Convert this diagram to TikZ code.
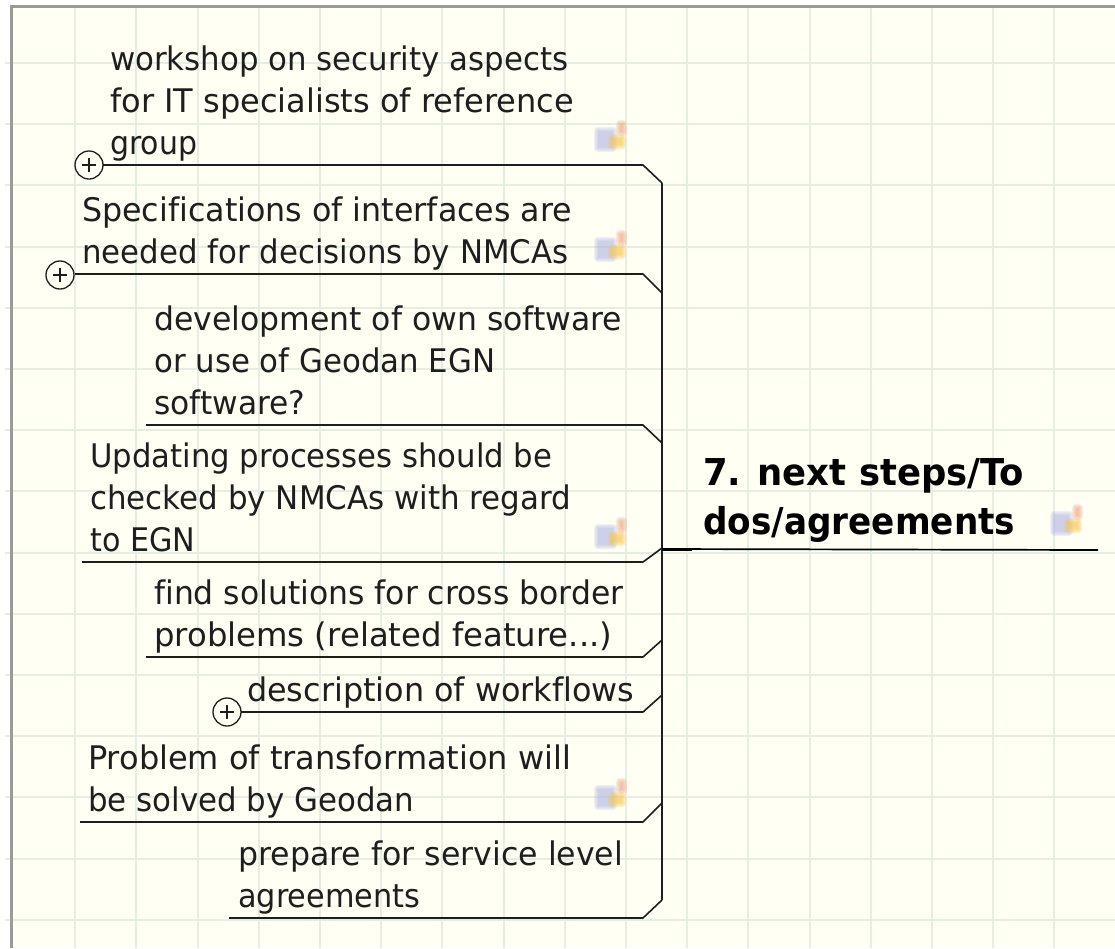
\documentclass[tikz,border=0pt]{standalone}
\usepackage{fontspec}
\setmainfont[Ligatures=CommonOff]{DejaVu Sans}
\usetikzlibrary{calc}
\definecolor{paper}{HTML}{FFFFF3}
\definecolor{gridc}{HTML}{E6EDE3}
\definecolor{framec}{HTML}{9A9A96}
\definecolor{inkc}{HTML}{1E1E1E}
\definecolor{iconblue}{HTML}{AEB0E6}
\definecolor{iconorange}{HTML}{F7C850}
\definecolor{iconred}{HTML}{F0A080}
\tikzset{
  topic/.style={anchor=south west,inner sep=0pt,align=left,text=inkc,font=\fontsize{32.5}{41.7}\selectfont},
  maintopic/.style={anchor=south west,inner sep=0pt,align=left,text=black,font=\fontsize{37}{49.5}\selectfont\bfseries},
  branch/.style={draw=inkc,line width=1.6pt,line join=round},
  spine/.style={draw=inkc,line width=2.4pt},
  plusc/.style={circle,draw=inkc,fill=paper,line width=1.3pt,minimum size=28pt,inner sep=0pt},
  gridl/.style={draw=gridc,line width=2pt},
}
\newcommand{\fitl}[2]{\resizebox{#1pt}{\height}{#2}}
\newcommand{\blurbox}[6]{% x1 y1 x2 y2 colour opacity
  \foreach \g in {4,2.7,1.4,0}{
    \fill[#5,opacity=#6,rounded corners=\g pt] ({#1-\g},{#2-\g}) rectangle ({#3+\g},{#4+\g});
  }}
\newcommand{\noteicon}[2]{%
  \begin{scope}[shift={(#1,#2)}]
    \blurbox{-12}{-6}{3}{11}{iconblue}{.2}
    \blurbox{2}{1}{12}{8}{iconorange}{.25}
    \blurbox{10}{-13}{13}{-5}{iconred}{.22}
  \end{scope}}
\newcommand{\pluscross}[1]{\draw[inkc,line width=1.3pt] ($(#1)+(-7,0)$) -- ($(#1)+(7,0)$) ($(#1)+(0,-7)$) -- ($(#1)+(0,7)$);}
\begin{document}
\begin{tikzpicture}[x=1pt,y=-1pt]
\useasboundingbox (0,0) rectangle (1115,948);
\fill[white] (0,0) rectangle (1115,948);
\fill[paper] (12,7) rectangle (1115,948);
\foreach \k in {1,...,17} \draw[gridl] ({14+61.2*\k},5) -- ({14+61.2*\k},948);
\foreach \k in {0,...,14} \draw[gridl] (5,{63+61.2*\k}) -- (1115,{63+61.2*\k});
\draw[framec,line width=2.2pt] (11.5,948) -- (11.5,6.5) -- (1115,6.5);
\noteicon{610}{137}
\noteicon{610}{247}
\noteicon{610}{534}
\noteicon{610}{795}
\noteicon{1066}{521}
% spine
\coordinate (st) at (662,183);
\coordinate (sb) at (662,900);
\coordinate (hub) at (662,549);
\coordinate (hubr) at (692,549);
\coordinate (mainend) at (1098,550);
\draw[spine] (st) -- (sb);
\draw[draw=black,line width=3pt] (hub) -- (hubr);
\draw[draw=black,line width=1.7pt] (hub) -- (mainend);
% branches
\foreach \n/\xa/\ya/\yb in {a/102/165/183,b/75/274/293,c/146/425/443,d/82/562/548,e/146/657/640,f/240/712/695,g/80/822/803,h/229/918/900}{
  \coordinate (\n0) at (\xa,\ya);
  \coordinate (\n1) at (643,\ya);
  \coordinate (\n2) at (662,\yb);
  \draw[branch] (\n0) -- (\n1) -- (\n2);
}
% texts
\node[topic] (ta) at (110,167) {\fitl{458}{workshop on security aspects}\\\fitl{464}{for IT specialists of reference}\\\fitl{87}{group}\strut};
\node[topic] (tb) at (82,276) {\fitl{490}{Specifications of interfaces are}\\\fitl{486}{needed for decisions by NMCAs}\strut};
\node[topic] (tc) at (154,427) {\fitl{468}{development of own software}\\\fitl{341}{or use of Geodan EGN}\\\fitl{151}{software?}\strut};
\node[topic] (td) at (90,564) {\fitl{462}{Updating processes should be}\\\fitl{481}{checked by NMCAs with regard}\\\fitl{105}{to EGN}\strut};
\node[topic] (te) at (154,659) {\fitl{469}{find solutions for cross border}\\\fitl{458}{problems (related feature...)}\strut};
\node[topic] (tf) at (247,714) {\fitl{387}{description of workflows}\strut};
\node[topic] (tg) at (88,824) {\fitl{483}{Problem of transformation will}\\\fitl{326}{be solved by Geodan}\strut};
\node[topic] (th) at (238,920) {\fitl{385}{prepare for service level}\\\fitl{182}{agreements}\strut};
\node[maintopic] (tm) at (703,550) {\fitl{321}{7. next steps/To}\\\fitl{312}{dos/agreements}\strut};
% collapse markers
\node[plusc] (pa) at (89,165) {}; \pluscross{pa}
\node[plusc] (pb) at (60,275) {}; \pluscross{pb}
\node[plusc] (pf) at (227,712) {}; \pluscross{pf}
\end{tikzpicture}
\end{document}
